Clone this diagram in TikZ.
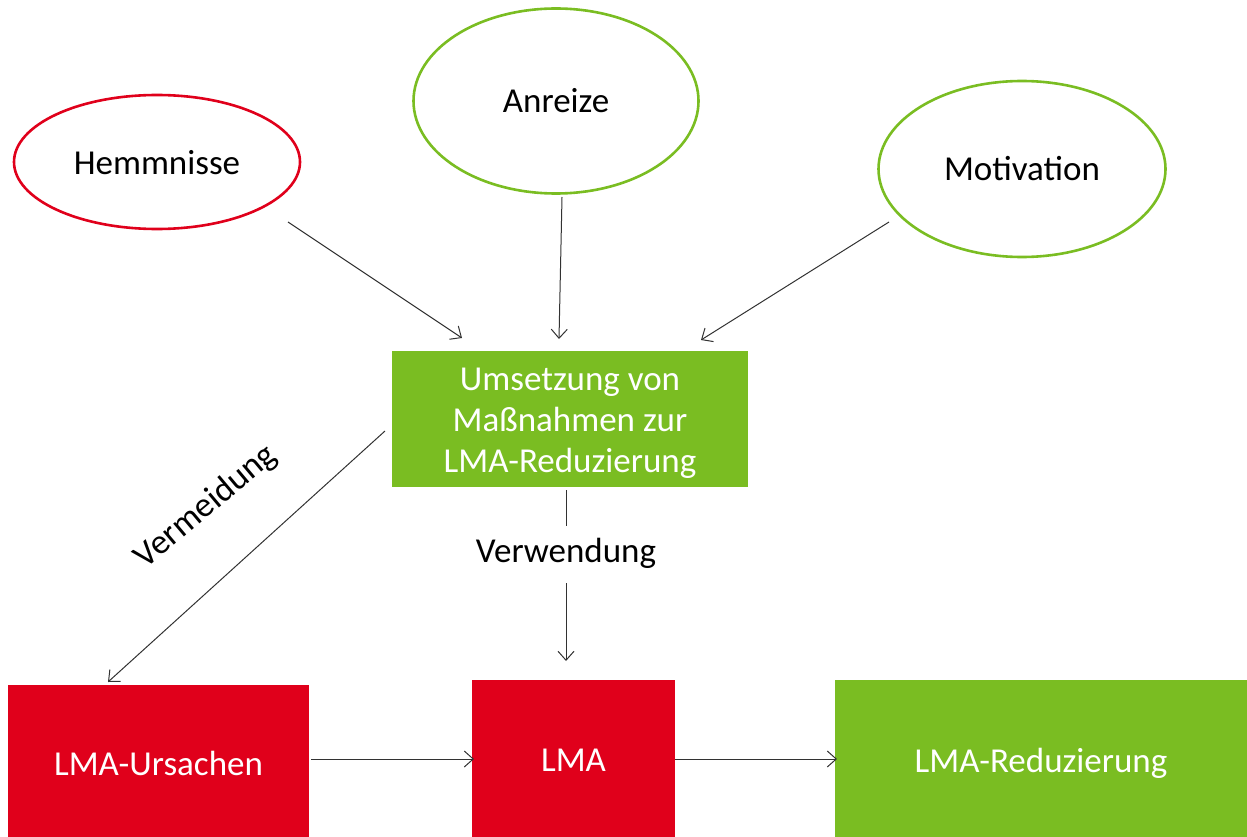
\documentclass[tikz,border=0pt]{standalone}
\usepackage{fontspec}
\setmainfont{Carlito}
\usetikzlibrary{shapes.geometric,arrows.meta}
\definecolor{lgreen}{RGB}{122,189,34}
\definecolor{lred}{RGB}{224,0,27}
\definecolor{arr}{RGB}{50,50,50}
\newcommand{\dn}[2]{\raisebox{-#1}[\height][\depth]{#2}}
\tikzset{
  big/.style={font=\fontsize{35}{41}\selectfont},
  oval/.style={ellipse, draw, line width=2.6pt, fill=white, inner sep=0pt, big},
  gbox/.style={rectangle, fill=lgreen, text=white, inner sep=0pt, align=center, big},
  rbox/.style={rectangle, fill=lred, text=white, inner sep=0pt, align=center, big},
  conn/.style={draw=arr, line width=1pt, -{Straight Barb[length=9pt,width=16pt,line width=1pt]}},
  plain/.style={draw=arr, line width=1pt},
  lbl/.style={big, inner sep=0pt}
}
\begin{document}
\begin{tikzpicture}[x=1pt,y=-1pt]
\useasboundingbox (0,0) rectangle (1247,837);
% ovals
\node[oval, draw=lred, minimum width=286pt, minimum height=134pt] (hem) at (157,162) {\dn{1pt}{Hemmnisse}};
\node[oval, draw=lgreen, minimum width=285pt, minimum height=185pt] (anr) at (556,101) {Anreize};
\node[oval, draw=lgreen, minimum width=287pt, minimum height=176pt] (mot) at (1022,169) {Motivation};
% boxes
\node[gbox, minimum width=356pt, minimum height=136pt] (ums) at (570,419) {\dn{4pt}{\begin{tabular}{@{}c@{}}Umsetzung von\\Maßnahmen zur\\LMA-Reduzierung\end{tabular}}};
\node[rbox, minimum width=301pt, minimum height=152pt] (urs) at (158.5,761) {\dn{2pt}{LMA-Ursachen}};
\node[rbox, minimum width=203pt, minimum height=157pt] (lma) at (573.5,758.5) {\dn{2pt}{LMA}};
\node[gbox, minimum width=412pt, minimum height=157pt] (red) at (1041,758.5) {\dn{5pt}{LMA-Reduzierung}};
% connector end points
\coordinate (hemS) at (288,222);
\coordinate (umsA) at (462,338);
\coordinate (anrS) at (562,197);
\coordinate (umsB) at (559,339);
\coordinate (motS) at (889,222);
\coordinate (umsC) at (701,340);
\coordinate (umsW) at (385,431);
\coordinate (ursN) at (108,682);
\coordinate (umsD) at (566,490);
\coordinate (verwT) at (566,526);
\coordinate (verwB) at (566,583);
\coordinate (lmaN) at (566,661);
\coordinate (ursE) at (311,759);
\coordinate (lmaW) at (474,759);
\coordinate (lmaE) at (675,759);
\coordinate (redW) at (837,759);
% labels
\node[lbl] (verw) at (566,553) {Verwendung};
\node[lbl, rotate=40] (verm) at (206,507) {Vermeidung};
% connectors
\draw[conn] (hemS) -- (umsA);
\draw[conn] (anrS) -- (umsB);
\draw[conn] (motS) -- (umsC);
\draw[conn] (umsW) -- (ursN);
\draw[plain] (umsD) -- (verwT);
\draw[conn] (verwB) -- (lmaN);
\draw[conn] (ursE) -- (lmaW);
\draw[conn] (lmaE) -- (redW);
\end{tikzpicture}
\end{document}
